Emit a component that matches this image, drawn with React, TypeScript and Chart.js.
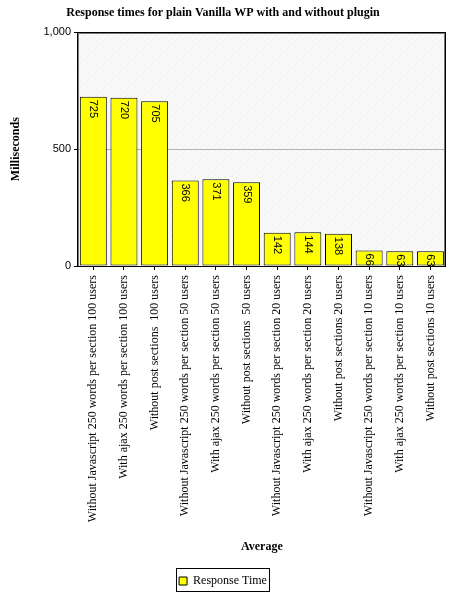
import React, { useEffect, useRef } from "react";
import { Chart, registerables } from "chart.js";

Chart.register(...registerables);

const chartTitle = "Response times for plain Vanilla WP with and without plugin";
const seriesName = "Response Time";
const yAxisTitle = "Milliseconds";
const xAxisTitle = "Average";

const categories = [
  "Without Javascript 250 words per section 100 users",
  "With ajax 250 words per section 100 users",
  "Without post sections  100 users",
  "Without Javascript 250 words per section 50 users",
  "With ajax 250 words per section 50 users",
  "Without post sections  50 users",
  "Without Javascript 250 words per section 20 users",
  "With ajax 250 words per section 20 users",
  "Without post sections 20 users",
  "Without Javascript 250 words per section 10 users",
  "With ajax 250 words per section 10 users",
  "Without post sections 10 users",
];

const responseTimes = [725, 720, 705, 366, 371, 359, 142, 144, 138, 66, 63, 63];

const yTickValues = [0, 500, 1000];

const SERIF = "'Liberation Serif', 'Times New Roman', serif";
const SANS = "'Liberation Sans', Arial, sans-serif";

const plotBackground = {
  id: "plotBackground",
  beforeDraw(chart: any) {
    const { ctx, chartArea } = chart;
    if (!chartArea) return;
    const p = document.createElement("canvas");
    p.width = 6;
    p.height = 6;
    const pc = p.getContext("2d")!;
    pc.fillStyle = "#f9f9f9";
    pc.fillRect(0, 0, 6, 6);
    pc.strokeStyle = "#f0f0f0";
    pc.lineWidth = 1;
    pc.beginPath();
    pc.moveTo(0, 6);
    pc.lineTo(6, 0);
    pc.stroke();
    const pattern = ctx.createPattern(p, "repeat");
    ctx.save();
    ctx.fillStyle = pattern || "#f9f9f9";
    ctx.fillRect(chartArea.left, chartArea.top, chartArea.right - chartArea.left, chartArea.bottom - chartArea.top);
    ctx.restore();
  },
};

const plotBorder = {
  id: "plotBorder",
  afterDraw(chart: any) {
    const { ctx, chartArea } = chart;
    const { left, top, right, bottom } = chartArea;
    ctx.save();
    ctx.strokeStyle = "#000";
    ctx.lineWidth = 1;
    ctx.strokeRect(Math.round(left) - 0.5, Math.round(top) + 0.5, Math.round(right - left), Math.round(bottom - top));
    ctx.strokeStyle = "#777";
    ctx.beginPath();
    ctx.moveTo(Math.round(left) + 0.5, Math.round(top) + 1.5);
    ctx.lineTo(Math.round(right) - 1.5, Math.round(top) + 1.5);
    ctx.lineTo(Math.round(right) - 1.5, Math.round(bottom));
    ctx.moveTo(Math.round(left) + 0.5, Math.round(top) + 1.5);
    ctx.lineTo(Math.round(left) + 0.5, Math.round(bottom));
    ctx.stroke();
    ctx.restore();
  },
};

const barLabels = {
  id: "barLabels",
  afterDatasetsDraw(chart: any) {
    const { ctx, chartArea } = chart;
    const meta = chart.getDatasetMeta(0);
    const data = chart.data.datasets[0].data as number[];
    ctx.save();
    ctx.beginPath();
    ctx.rect(chartArea.left, chartArea.top, chartArea.right - chartArea.left, chartArea.bottom - chartArea.top);
    ctx.clip();
    ctx.fillStyle = "#000";
    ctx.font = `11px ${SANS}`;
    ctx.textAlign = "left";
    ctx.textBaseline = "middle";
    meta.data.forEach((bar: any, i: number) => {
      ctx.save();
      ctx.translate(bar.x, bar.y + 3);
      ctx.rotate(Math.PI / 2);
      ctx.fillText(String(data[i]), 0, 0);
      ctx.restore();
    });
    ctx.restore();
  },
};

const legendBorder = {
  id: "legendBorder",
  afterDraw(chart: any) {
    const legend = chart.legend;
    if (!legend || !legend.legendHitBoxes || !legend.legendHitBoxes.length) return;
    const hb = legend.legendHitBoxes[0];
    const { ctx } = chart;
    ctx.save();
    ctx.strokeStyle = "#000";
    ctx.lineWidth = 1;
    const x = Math.round(hb.left - 3) + 0.5;
    const y = Math.round(hb.top - 7) + 0.5;
    const w = Math.round(hb.width + 5);
    const h = Math.round(hb.height + 11);
    ctx.strokeRect(x, y, w, h);
    ctx.restore();
  },
};

export default function App() {
  const canvasRef = useRef<HTMLCanvasElement | null>(null);

  useEffect(() => {
    document.body.style.margin = "0";
    const canvas = canvasRef.current;
    if (!canvas) return;
    const chart = new Chart(canvas, {
      type: "bar",
      data: {
        labels: categories,
        datasets: [
          {
            label: seriesName,
            data: responseTimes,
            backgroundColor: "#ffff00",
            borderColor: "#000000",
            borderWidth: 1,
            borderSkipped: false,
            categoryPercentage: 1,
            barPercentage: 0.88,
          },
        ],
      },
      options: {
        animation: false,
        responsive: false,
        devicePixelRatio: 1,
        layout: { padding: { left: 0, right: 4, top: 0, bottom: 3 } },
        plugins: {
          title: {
            display: true,
            text: chartTitle,
            color: "#000",
            font: { family: SERIF, size: 12, weight: "bold" },
            padding: { top: 6, bottom: 12 },
          },
          legend: {
            display: true,
            position: "bottom",
            labels: {
              color: "#000",
              font: { family: SERIF, size: 12 },
              boxWidth: 8,
              boxHeight: 8,
              padding: 8,
            },
          },
          tooltip: { enabled: false },
        },
        scales: {
          x: {
            offset: true,
            grid: {
              display: true,
              drawOnChartArea: false,
              drawTicks: true,
              tickLength: 4,
              tickColor: "#000",
              offset: false,
            },
            border: { display: false },
            ticks: {
              autoSkip: false,
              minRotation: 90,
              maxRotation: 90,
              padding: 5,
              color: "#000",
              font: { family: SERIF, size: 12 },
            },
            title: {
              display: true,
              text: xAxisTitle,
              color: "#000",
              font: { family: SERIF, size: 12, weight: "bold" },
              padding: { top: 4, bottom: 13 },
            },
            afterFit(scale: any) {
              scale.height = 301;
            },
          },
          y: {
            min: 0,
            max: 1000,
            afterBuildTicks(scale: any) {
              scale.ticks = yTickValues.map((v) => ({ value: v }));
            },
            grid: {
              color: (c: any) => (c.tick && c.tick.value === 500 ? "#b4b4b4" : "rgba(0,0,0,0)"),
              tickColor: "#000",
              tickLength: 4,
              drawTicks: true,
            },
            border: { display: false },
            ticks: {
              padding: 3,
              color: "#000",
              font: { family: SANS, size: 11 },
            },
            title: {
              display: true,
              text: yAxisTitle,
              color: "#000",
              font: { family: SERIF, size: 12, weight: "bold" },
              padding: { top: 9, bottom: 0 },
            },
            afterFit(scale: any) {
              scale.width = 78;
            },
          },
        },
      },
      plugins: [plotBackground, barLabels, plotBorder, legendBorder],
    });
    return () => chart.destroy();
  }, []);

  return (
    <div style={{ position: "absolute", left: 0, top: 0, width: 450, height: 600 }}>
      <canvas ref={canvasRef} width={450} height={600} />
    </div>
  );
}
